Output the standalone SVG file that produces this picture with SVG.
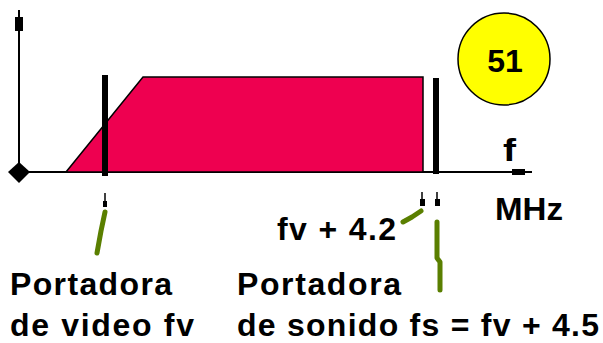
<svg xmlns="http://www.w3.org/2000/svg" width="603" height="343" viewBox="0 0 603 343">
<style>
.t{font-family:"Liberation Sans",Arial,sans-serif;font-weight:bold;font-size:32px;fill:#000}
.ax{stroke:#000;stroke-width:2;fill:none}
.g{stroke:#5a7f00;stroke-width:5;fill:none;stroke-linecap:round;stroke-linejoin:round}
.tick{stroke:#000;stroke-width:1.5}
</style>
<rect width="603" height="343" fill="#fff"/>
<g id="axes">
<line class="ax" x1="19" y1="10" x2="19" y2="172"/>
<rect x="15" y="17" width="8" height="14" fill="#000"/>
<line class="ax" x1="19" y1="172" x2="532" y2="172"/>
<rect x="512" y="169" width="13" height="6" fill="#000"/>
<polygon points="19,162 30,172 19,183 8,172" fill="#000"/>
<text class="t" x="503" y="161" textLength="13" lengthAdjust="spacingAndGlyphs">f</text>
<text class="t" x="495" y="220" textLength="68" lengthAdjust="spacingAndGlyphs">MHz</text>
</g>
<g id="band">
<polygon points="66,172 143,77 423,77 423,172" fill="#ee0050" stroke="#000" stroke-width="1.5"/>
</g>
<g id="video-carrier">
<line x1="105" y1="75" x2="105" y2="176" stroke="#000" stroke-width="6"/>
<line class="tick" x1="105" y1="193" x2="105" y2="203"/>
<rect x="103" y="201" width="4" height="6" fill="#000"/>
</g>
<g id="sound-carrier">
<line x1="436" y1="78" x2="436" y2="174" stroke="#000" stroke-width="6"/>
<line class="tick" x1="422" y1="192" x2="422" y2="201"/>
<rect x="420" y="199" width="5" height="7" fill="#000"/>
<line class="tick" x1="437" y1="192" x2="437" y2="201"/>
<rect x="435" y="199" width="5" height="7" fill="#000"/>
</g>
<g id="badge">
<circle cx="504" cy="59" r="46" fill="#ffff00" stroke="#000" stroke-width="1.5"/>
<text class="t" x="505" y="72" text-anchor="middle" font-size="33">51</text>
</g>
<g id="connectors">
<polyline class="g" points="105,212 101,231 97,253"/>
<polyline class="g" points="403,222 412,217 421,211"/>
<polyline class="g" points="437,222 437,258 440,262 440,290"/>
</g>
<g id="label-video">
<text class="t" x="10" y="295" textLength="162" lengthAdjust="spacing">Portadora</text>
<text class="t" x="10" y="336" textLength="184" lengthAdjust="spacing">de video fv</text>
</g>
<g id="label-42">
<text class="t" x="277" y="240" textLength="119" lengthAdjust="spacing">fv + 4.2</text>
</g>
<g id="label-sound">
<text class="t" x="237" y="295" textLength="164" lengthAdjust="spacing">Portadora</text>
<text class="t" x="237" y="336" textLength="362" lengthAdjust="spacing">de sonido fs = fv + 4.5</text>
</g>
</svg>
